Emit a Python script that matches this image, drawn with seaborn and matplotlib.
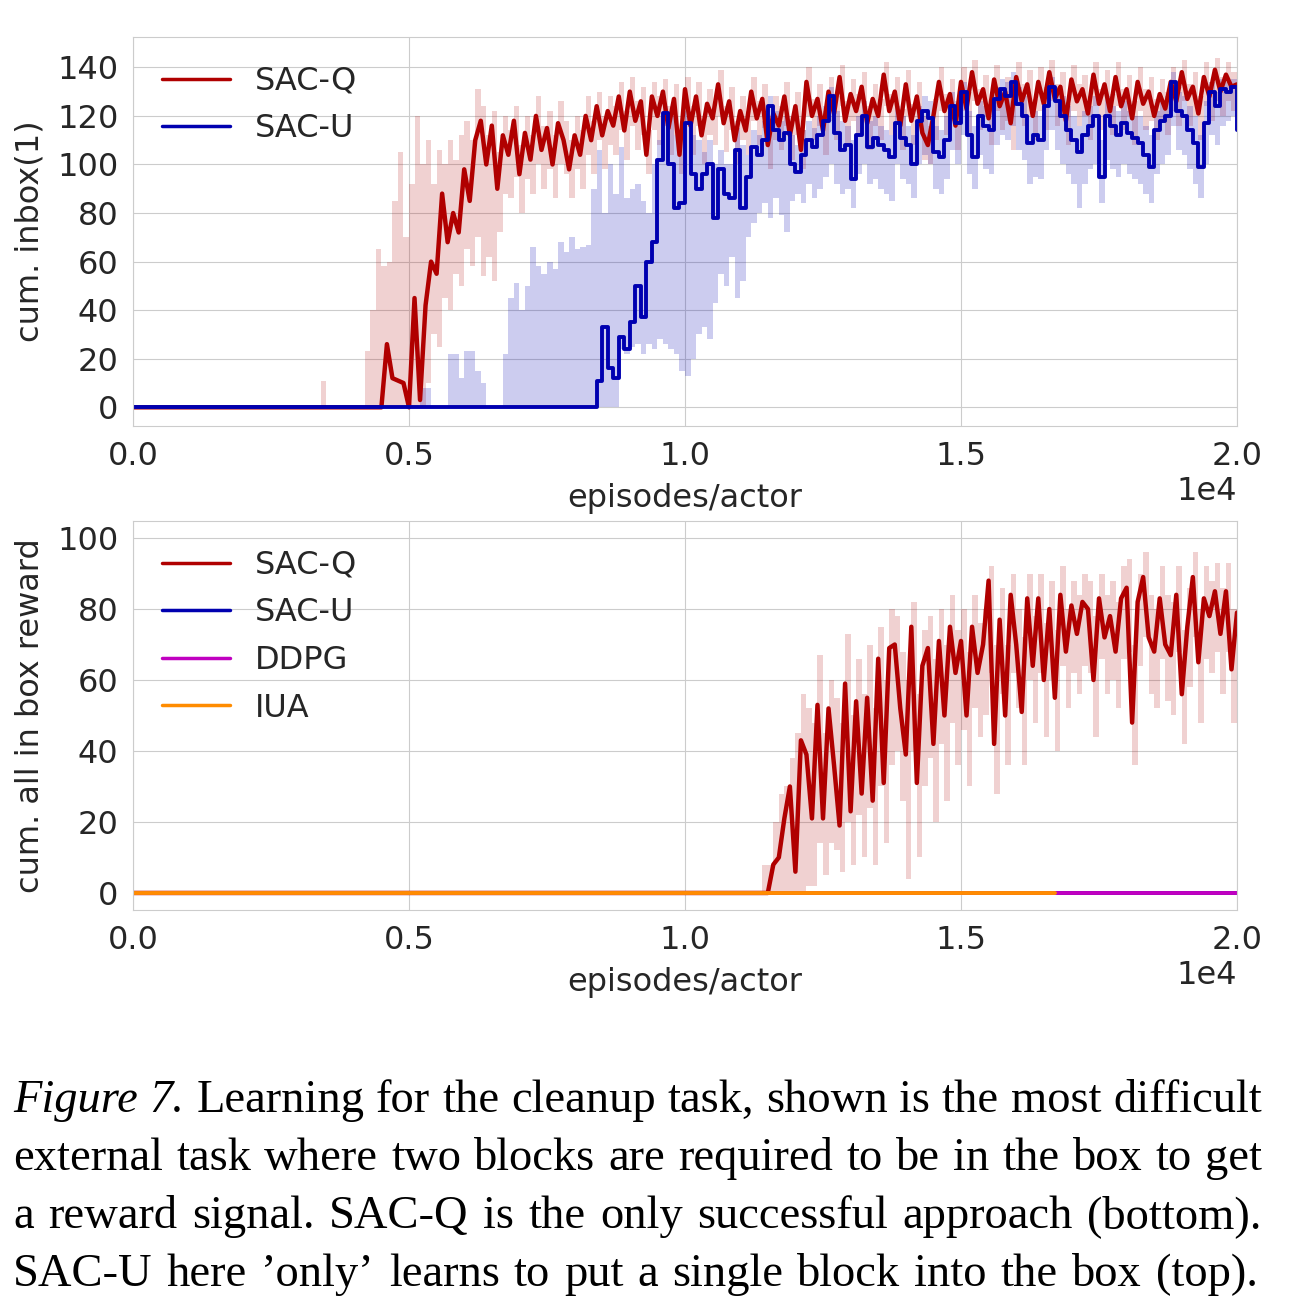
import matplotlib
matplotlib.use("Agg")
import matplotlib.pyplot as plt
import seaborn as sns

# ---- datos (cada punto = 100 episodios) ----
episodes = list(range(0, 20001, 100))

# panel superior: cum. inbox(1)
sacq_top = [0] * 46 + [
    26, 12, 11, 10, 0, 45, 3, 42, 60, 55,
    88, 68, 80, 72, 98, 85, 110, 118, 100, 116,
    90, 112, 104, 118, 96, 113, 102, 120, 106, 115,
    100, 117, 110, 98, 112, 104, 120, 110, 124, 112,
    122, 116, 128, 114, 130, 118, 126, 104, 128, 120,
    130, 115, 127, 104, 131, 116, 128, 112, 125, 119,
    133, 117, 126, 110, 122, 114, 130, 119, 127, 108,
    121, 116, 128, 112, 124, 106, 134, 120, 127, 114,
    130, 121, 136, 118, 129, 122, 132, 117, 127, 120,
    137, 122, 130, 116, 133, 118, 128, 113, 108, 120,
    134, 122, 129, 116, 134, 123, 138, 125, 131, 119,
    135, 124, 130, 117, 136, 126, 133, 120, 134, 125,
    138, 127, 132, 118, 135, 126, 131, 121, 137, 125,
    133, 122, 136, 124, 131, 119, 134, 125, 130, 120,
    129, 123, 134, 126, 138, 127, 132, 121, 136, 128,
    139, 130, 137, 132, 133]
sacq_top_hi = [0] * 34 + [11] + [0] * 7 + [
    23, 40, 65, 58, 60, 85, 105, 70, 92, 120,
    100, 110, 92, 106, 100, 110, 102, 112, 118, 110,
    131, 124, 112, 122, 105, 120, 114, 124, 108, 120,
    112, 128, 116, 122, 112, 126, 118, 110, 120, 114,
    128, 118, 130, 120, 128, 124, 134, 122, 136, 126,
    132, 114, 134, 128, 135, 124, 133, 112, 136, 124,
    134, 120, 131, 126, 139, 124, 132, 118, 128, 122,
    136, 126, 133, 116, 128, 124, 134, 120, 130, 114,
    140, 127, 133, 122, 136, 128, 141, 126, 135, 129,
    138, 124, 133, 127, 142, 129, 136, 123, 139, 125,
    134, 120, 116, 127, 140, 129, 135, 123, 140, 130,
    143, 131, 137, 126, 141, 131, 136, 124, 142, 133,
    139, 127, 140, 132, 143, 133, 138, 125, 141, 133,
    137, 128, 142, 131, 139, 129, 142, 131, 137, 126,
    140, 131, 136, 127, 135, 130, 140, 132, 143, 133,
    138, 128, 142, 134, 144, 136, 142, 138, 138]
sacq_top_lo = [0] * 53 + [
    10, 30, 25, 45, 40, 55, 50, 65, 58, 70,
    54, 62, 52, 72, 88, 86, 95, 80, 94, 88,
    100, 90, 98, 86, 100, 96, 86, 98, 90, 104,
    96, 110, 98, 108, 104, 114, 102, 116, 106, 112,
    96, 114, 108, 116, 104, 112, 96, 118, 104, 116,
    100, 112, 108, 120, 105, 114, 100, 110, 104, 118,
    108, 115, 98, 110, 106, 116, 102, 112, 98, 120,
    110, 116, 104, 118, 110, 124, 108, 118, 112, 120,
    106, 116, 110, 124, 112, 118, 106, 120, 108, 116,
    102, 100, 110, 122, 112, 118, 106, 122, 112, 126,
    114, 120, 108, 122, 114, 118, 106, 124, 116, 120,
    110, 122, 114, 126, 116, 120, 108, 122, 116, 120,
    110, 124, 114, 120, 112, 124, 114, 120, 108, 122,
    114, 118, 110, 118, 112, 122, 116, 126, 116, 120,
    110, 124, 118, 126, 120, 126, 122, 124]

sacu_top = [0] * 84 + [
    11, 33, 16, 12, 29, 24, 35, 50, 37, 60,
    68, 102, 121, 100, 82, 84, 117, 96, 90, 96,
    100, 78, 98, 88, 86, 106, 82, 95, 107, 104,
    110, 124, 114, 110, 113, 100, 97, 104, 110, 107,
    112, 118, 128, 113, 106, 108, 94, 112, 120, 107,
    111, 108, 106, 103, 117, 111, 108, 100, 118, 122,
    119, 105, 103, 110, 124, 117, 130, 112, 103, 120,
    116, 114, 127, 131, 128, 134, 125, 120, 109, 112,
    110, 124, 132, 126, 120, 114, 110, 105, 112, 116,
    120, 95, 120, 116, 112, 117, 113, 111, 109, 104,
    99, 114, 118, 120, 134, 122, 120, 114, 109, 99,
    117, 130, 124, 131, 130, 132, 114]
sacu_top_hi = [0] * 52 + [
    8, 8, 0, 0, 0, 22, 22, 12, 23, 23,
    15, 10, 0, 0, 0, 22, 45, 51, 40, 50,
    66, 58, 55, 60, 57, 68, 64, 70, 65, 66,
    67, 90, 106, 80, 100, 88, 107, 86, 90, 92,
    85, 80, 100, 110, 124, 120, 112, 110, 122, 112,
    110, 105, 110, 100, 106, 100, 100, 115, 108, 104,
    114, 112, 118, 128, 122, 118, 120, 112, 108, 114,
    118, 115, 120, 124, 132, 122, 118, 116, 110, 120,
    126, 118, 120, 116, 114, 112, 124, 120, 116, 112,
    124, 128, 126, 116, 114, 120, 130, 126, 134, 122,
    116, 126, 124, 122, 132, 135, 134, 138, 132, 128,
    120, 122, 120, 130, 136, 132, 128, 124, 120, 116,
    122, 124, 128, 110, 128, 124, 122, 126, 122, 120,
    120, 116, 112, 122, 126, 128, 138, 130, 128, 124,
    120, 112, 126, 134, 130, 135, 134, 135, 120]
sacu_top_lo = [0] * 88 + [
    24, 22, 25, 26, 22, 26, 24, 28, 26,
    24, 22, 15, 13, 20, 30, 33, 28, 43, 55,
    50, 62, 45, 52, 70, 76, 80, 84, 78, 86,
    79, 72, 85, 88, 84, 92, 86, 90, 95, 100,
    92, 88, 90, 82, 96, 100, 92, 94, 90, 88,
    85, 100, 94, 92, 86, 100, 104, 100, 90, 88,
    94, 106, 100, 112, 96, 90, 104, 98, 96, 108,
    112, 110, 116, 106, 102, 92, 95, 94, 106, 114,
    106, 100, 96, 92, 82, 92, 98, 100, 84, 102,
    98, 95, 100, 96, 94, 92, 88, 84, 96, 100,
    104, 116, 106, 104, 98, 92, 86, 100, 112, 108,
    116, 118, 120, 108]

# panel inferior: cum. all in box reward
sacq_bot = [0] * 116 + [
    8, 10, 21, 30, 6, 43, 39, 21, 53, 21,
    52, 36, 19, 59, 23, 54, 28, 55, 26, 66,
    31, 69, 70, 52, 39, 75, 31, 64, 69, 42,
    71, 50, 75, 62, 71, 50, 75, 62, 70, 88,
    42, 77, 50, 84, 70, 51, 83, 64, 83, 60,
    80, 55, 84, 68, 81, 73, 82, 80, 60, 83,
    72, 78, 68, 83, 86, 48, 82, 89, 72, 68,
    83, 70, 67, 84, 56, 75, 89, 65, 83, 78,
    85, 73, 85, 63, 79]
sacq_bot_hi = [0] * 114 + [
    8, 8, 20, 28, 30, 38, 45, 56, 52, 48,
    67, 45, 60, 55, 48, 73, 50, 66, 56, 70,
    52, 75, 60, 80, 78, 68, 60, 82, 56, 74,
    78, 66, 80, 70, 84, 74, 80, 68, 84, 76,
    80, 92, 70, 86, 70, 90, 80, 72, 90, 78,
    90, 76, 88, 74, 92, 80, 88, 84, 90, 88,
    78, 90, 84, 88, 82, 92, 94, 70, 90, 96,
    84, 80, 92, 84, 82, 92, 74, 86, 96, 80,
    92, 88, 93, 86, 93, 80, 88]
sacq_bot_lo = [0] * 122 + [
    2, 2, 14, 5, 14, 12, 6, 20, 8, 22,
    10, 24, 8, 30, 14, 36, 40, 26, 4, 40,
    10, 30, 38, 20, 42, 26, 48, 36, 46, 30,
    52, 44, 50, 62, 28, 56, 36, 62, 52, 36,
    60, 48, 62, 44, 60, 40, 64, 52, 62, 56,
    64, 62, 44, 66, 56, 60, 52, 66, 68, 36,
    64, 72, 56, 52, 66, 54, 50, 68, 42, 58,
    72, 48, 66, 62, 68, 56, 68, 48, 62]
sacu_bot = [0] * 201
ddpg_x = [0, 20000]
ddpg_y = [0, 0]
iua_x = [0, 16700]
iua_y = [0, 0]

caption = [
    "Figure 7. Learning for the cleanup task, shown is the most difficult",
    "external task where two blocks are required to be in the box to get",
    "a reward signal. SAC-Q is the only successful approach (bottom).",
    "SAC-U here \u2019only\u2019 learns to put a single block into the box (top).",
]

ROJO = "#b00000"
AZUL = "#0000b0"
MAGENTA = "#c000c0"
NARANJA = "#ff8c00"
FS = 23

sns.set_style("whitegrid")
plt.rcParams["font.family"] = ["DejaVu Sans"]

W, H = 1292, 1298
fig = plt.figure(figsize=(W / 100, H / 100), dpi=100)
ax1 = fig.add_axes([133 / W, 1 - 426 / H, 1104 / W, 389 / H])
ax2 = fig.add_axes([133 / W, 1 - 910 / H, 1104 / W, 389 / H])

# ===== panel superior =====
ax1.fill_between(episodes, sacq_top_lo, sacq_top_hi, step="post", color=ROJO, alpha=0.18, linewidth=0)
ax1.fill_between(episodes, sacu_top_lo, sacu_top_hi, step="post", color=AZUL, alpha=0.2, linewidth=0)
sns.lineplot(x=episodes, y=sacq_top, ax=ax1, color=ROJO, linewidth=3.2, label="SAC-Q")
sns.lineplot(x=episodes, y=sacu_top, ax=ax1, color=AZUL, linewidth=2.8, label="SAC-U",
             drawstyle="steps-post")
ax1.set_ylim(-7.7, 152.5)
ax1.set_yticks(range(0, 141, 20))
ax1.set_ylabel("cum. inbox(1)", fontsize=FS, labelpad=8)

# ===== panel inferior =====
ax2.fill_between(episodes, sacq_bot_lo, sacq_bot_hi, step="post", color=ROJO, alpha=0.18, linewidth=0)
sns.lineplot(x=episodes, y=sacq_bot, ax=ax2, color=ROJO, linewidth=3.2, label="SAC-Q")
sns.lineplot(x=episodes, y=sacu_bot, ax=ax2, color=AZUL, linewidth=2.8, label="SAC-U")
sns.lineplot(x=ddpg_x, y=ddpg_y, ax=ax2, color=MAGENTA, linewidth=2.8, label="DDPG")
sns.lineplot(x=iua_x, y=iua_y, ax=ax2, color=NARANJA, linewidth=2.8, label="IUA")
ax2.set_ylim(-4.8, 104.8)
ax2.set_yticks(range(0, 101, 20))
ax2.set_ylabel("cum. all in box reward", fontsize=FS, labelpad=8)

for ax in (ax1, ax2):
    ax.set_xlim(0, 20000)
    ax.set_xticks([0, 5000, 10000, 15000, 20000])
    ax.ticklabel_format(axis="x", style="sci", scilimits=(0, 0))
    ax.xaxis.get_offset_text().set_fontsize(FS)
    ax.tick_params(labelsize=FS, pad=7)
    ax.set_xlabel("episodes/actor", fontsize=FS, labelpad=8)
    leg = ax.legend(loc="upper left", frameon=False, fontsize=FS, handlelength=2.13,
                    handletextpad=0.78, labelspacing=0.52, borderaxespad=0.5)
    for ln in leg.get_lines():
        ln.set_linewidth(2.5)

# ===== pie de figura, justificado palabra por palabra =====
renderer = fig.canvas.get_renderer()
bases = [1112, 1170, 1228, 1286]
izq, der = 13, 1262
for i, (linea, yb) in enumerate(zip(caption, bases)):
    palabras = linea.split(" ")
    textos = []
    for j, p in enumerate(palabras):
        estilo = "italic" if (i == 0 and j < 2) else "normal"
        textos.append(fig.text(0, 1 - yb / H, p, fontsize=33.5, family="Liberation Serif",
                               style=estilo, va="baseline", ha="left", color="black"))
    anchos = [t.get_window_extent(renderer).width for t in textos]
    fin = der if i < 3 else 1258
    hueco = (fin - izq - sum(anchos)) / (len(palabras) - 1)
    x = izq
    for t, a in zip(textos, anchos):
        t.set_x(x / W)
        x += a + hueco

fig.savefig("out.png", dpi=100)
